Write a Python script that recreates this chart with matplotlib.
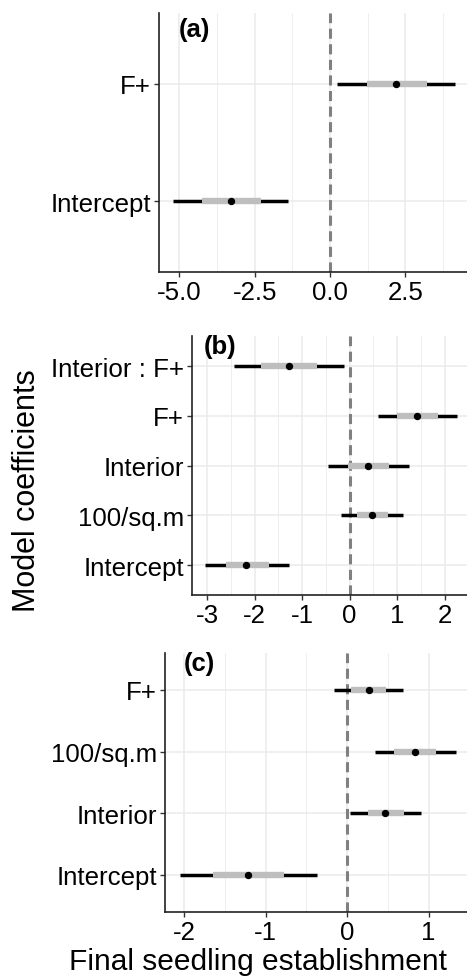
import matplotlib
matplotlib.use("Agg")
import matplotlib.pyplot as plt
from matplotlib.ticker import MultipleLocator

plt.rcParams['font.family'] = ['Liberation Sans', 'DejaVu Sans']

# Panel (a)
terms_a = ["Intercept", "F+"]
est_a = [-3.30, 2.19]
lo95_a = [-5.21, 0.24]
hi95_a = [-1.40, 4.16]
lo50_a = [-4.25, 1.22]
hi50_a = [-2.30, 3.21]

# Panel (b)
terms_b = ["Intercept", "100/sq.m", "Interior", "F+", "Interior : F+"]
est_b = [-2.17, 0.48, 0.39, 1.42, -1.28]
lo95_b = [-3.04, -0.18, -0.46, 0.60, -2.43]
hi95_b = [-1.28, 1.13, 1.24, 2.26, -0.12]
lo50_b = [-2.60, 0.15, -0.04, 1.00, -1.87]
hi50_b = [-1.70, 0.81, 0.82, 1.85, -0.68]

# Panel (c)
terms_c = ["Intercept", "Interior", "100/sq.m", "F+"]
est_c = [-1.22, 0.47, 0.83, 0.27]
lo95_c = [-2.05, 0.03, 0.34, -0.16]
hi95_c = [-0.37, 0.91, 1.33, 0.69]
lo50_c = [-1.64, 0.25, 0.58, 0.05]
hi50_c = [-0.78, 0.70, 1.09, 0.48]

W, H = 467, 978
fig = plt.figure(figsize=(W / 100, H / 100), dpi=100)


def px_axes(left, right, top, bottom):
    return fig.add_axes([left / W, (H - bottom) / H, (right - left) / W, (bottom - top) / H])


def panel(ax, terms, est, lo95, hi95, lo50, hi50, xlim, major, minor, fmt, label, lpos):
    n = len(terms)
    y = list(range(1, n + 1))
    ax.set_xlim(*xlim)
    ax.set_ylim(0.4, n + 0.6)
    ax.xaxis.set_major_locator(MultipleLocator(major))
    ax.xaxis.set_minor_locator(MultipleLocator(minor))
    ax.grid(True, which='major', axis='both', color='#ebebeb', linewidth=1.1, zorder=0)
    ax.grid(True, which='minor', axis='x', color='#ebebeb', linewidth=0.6, zorder=0)
    ax.set_axisbelow(True)
    ax.axvline(0, color='#808080', linewidth=2.2, dashes=(3.3, 1.8), zorder=1)
    ax.hlines(y, lo95, hi95, color='black', linewidth=2.5, zorder=2)
    ax.hlines(y, lo50, hi50, color='#bebebe', linewidth=4.6, zorder=3)
    ax.plot(est, y, 'o', color='black', markersize=4.3, zorder=4)
    ax.set_yticks(y)
    ax.set_yticklabels(terms)
    ax.xaxis.set_major_formatter(plt.FuncFormatter(lambda v, p: fmt.format(v).replace('\u2212', '-')))
    for s in ['top', 'right']:
        ax.spines[s].set_visible(False)
    for s in ['left', 'bottom']:
        ax.spines[s].set_linewidth(1.2)
        ax.spines[s].set_color('#222222')
    ax.tick_params(axis='both', which='major', length=3.5, width=1.0, color='#333333',
                   labelsize=18.6, labelcolor='black', pad=2.5)
    ax.tick_params(axis='x', which='minor', length=0)
    ax.text(lpos[0], lpos[1], label, transform=ax.transAxes, fontsize=18.5,
            fontweight='bold', ha='left', va='center')


ax_a = px_axes(159.3, 467, 14, 272.7)
panel(ax_a, terms_a, est_a, lo95_a, hi95_a, lo50_a, hi50_a, (-5.67, 4.55), 2.5, 1.25,
      "{:.1f}", "(a)", (0.063, 0.94))

ax_b = px_axes(192.3, 467, 337.3, 596)
panel(ax_b, terms_b, est_b, lo95_b, hi95_b, lo50_b, hi50_b, (-3.31, 2.47), 1, 0.5,
      "{:.0f}", "(b)", (0.042, 0.962))

ax_c = px_axes(165.3, 467, 654, 912.7)
panel(ax_c, terms_c, est_c, lo95_c, hi95_c, lo50_c, hi50_c, (-2.23, 1.47), 1, 0.5,
      "{:.0f}", "(c)", (0.06, 0.962))

fig.text(27 / W, 1 - 491 / H, "Model coefficients", rotation=90, fontsize=22,
         ha='center', va='center')
fig.text(258 / W, 1 - 962 / H, "Final seedling establishment", fontsize=21.5,
         ha='center', va='center')

fig.savefig("out.png", dpi=100)
